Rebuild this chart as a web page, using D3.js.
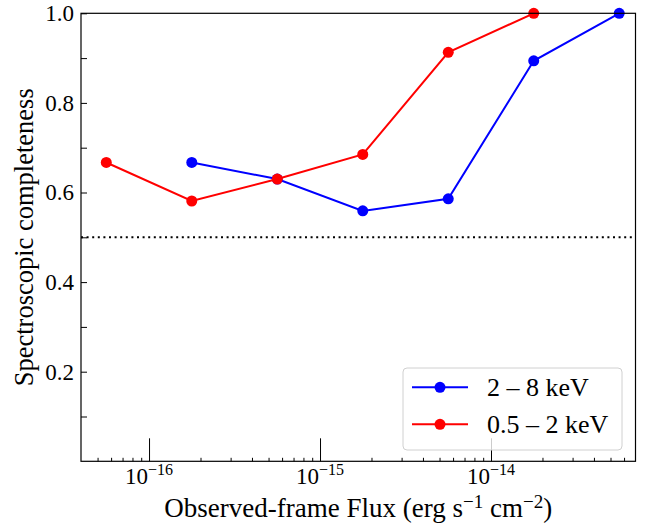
<!DOCTYPE html>
<html>
<head>
<meta charset="utf-8">
<script src="https://cdn.jsdelivr.net/npm/d3@7"></script>
<style>
  body { margin: 0; background: #fff; }
  svg text { font-family: "Liberation Serif", "Times New Roman", serif; fill: #000; }
</style>
</head>
<body>
<svg id="chart" width="654" height="525"></svg>
<script>
// observed-frame flux bins (erg s^-1 cm^-2) and completeness
const hardFlux = [1.778e-16, 5.623e-16, 1.778e-15, 5.623e-15, 1.778e-14, 5.623e-14];
const hardComp = [0.667, 0.630, 0.559, 0.586, 0.894, 1.0];
const softFlux = [5.623e-17, 1.778e-16, 5.623e-16, 1.778e-15, 5.623e-15, 1.778e-14];
const softComp = [0.667, 0.581, 0.630, 0.685, 0.913, 1.0];

const seriesNames = ['2 \u2013 8 keV', '0.5 \u2013 2 keV'];
const yMajor = [0.2, 0.4, 0.6, 0.8, 1.0];
const yMinor = [0.1, 0.3, 0.5, 0.7, 0.9];
const xMajor = [1e-16, 1e-15, 1e-14];
const xMajorLabels = ['\u221216', '\u221215', '\u221214'];

window.onload = () => {

  const svg = d3.select('#chart');
  const margin = {left: 81, right: 18.5, top: 13.3, bottom: 63.7};
  const width = 654 - margin.left - margin.right;
  const height = 525 - margin.top - margin.bottom;

  const x = d3.scaleLog()
              .domain([4.0e-17, 7.0e-14])
              .range([0, width]);

  const y = d3.scaleLinear()
              .domain([0, 1])
              .range([height, 0]);

  const g = svg.append('g')
               .attr('transform', `translate(${margin.left}, ${margin.top})`);

  //minor x ticks: 2..9 of every decade inside the domain
  const xMinor = [];
  [-17, -16, -15, -14].forEach(k => {
    d3.range(2, 10).forEach(m => {
      const v = m * Math.pow(10, k);
      if (v > x.domain()[0] && v < x.domain()[1]) xMinor.push(v);
    });
  });

  const xAxisMajor = d3.axisBottom(x)
                       .tickValues(xMajor)
                       .tickSize(-23)
                       .tickFormat('');

  const xAxisMinor = d3.axisBottom(x)
                       .tickValues(xMinor)
                       .tickSize(-3.5)
                       .tickFormat('');

  const yAxis = d3.axisLeft(y)
                  .tickValues(yMajor.concat(yMinor))
                  .tickSize(-6)
                  .tickFormat('');

  g.append('g')
     .attr('transform', `translate(0, ${height})`)
     .call(xAxisMajor);

  g.append('g')
     .attr('transform', `translate(0, ${height})`)
     .call(xAxisMinor);

  g.append('g')
     .call(yAxis);

  g.selectAll('.domain').remove();
  g.selectAll('.tick line')
     .attr('stroke', '#000')
     .attr('stroke-width', 1);

  //tick labels
  g.selectAll('.ylab')
     .data(yMajor)
     .enter()
     .append('text')
       .attr('x', -7)
       .attr('y', d => y(d) + 8)
       .attr('text-anchor', 'end')
       .style('font-size', '23px')
       .text(d => d.toFixed(1));

  const xl = g.selectAll('.xlab')
              .data(xMajor)
              .enter()
              .append('text')
                .attr('x', d => x(d))
                .attr('y', height + 22.5)
                .attr('text-anchor', 'middle')
                .style('font-size', '23px');
  xl.append('tspan').text('10');
  xl.append('tspan')
      .attr('dy', -8.5)
      .style('font-size', '16px')
      .text((d, i) => xMajorLabels[i]);

  //reference line at 50%
  g.append('line')
     .attr('x1', 0)
     .attr('x2', width)
     .attr('y1', y(0.5))
     .attr('y2', y(0.5))
     .attr('stroke', '#000')
     .attr('stroke-width', 2)
     .attr('stroke-dasharray', '2,3.6');

  const line = d3.line()
                 .x(d => x(d[0]))
                 .y(d => y(d[1]));

  const series = [
    {name: seriesNames[0], color: '#0000ff', pts: d3.zip(hardFlux, hardComp)},
    {name: seriesNames[1], color: '#ff0000', pts: d3.zip(softFlux, softComp)}
  ];

  series.forEach(s => {
    g.append('path')
       .attr('d', line(s.pts))
       .attr('fill', 'none')
       .attr('stroke', s.color)
       .attr('stroke-width', 2);

    g.selectAll(null)
       .data(s.pts)
       .enter()
       .append('circle')
         .attr('cx', d => x(d[0]))
         .attr('cy', d => y(d[1]))
         .attr('r', 5.5)
         .attr('fill', s.color);
  });

  //frame
  g.append('rect')
     .attr('width', width)
     .attr('height', height)
     .attr('fill', 'none')
     .attr('stroke', '#000')
     .attr('stroke-width', 1.2);

  //legend
  const leg = svg.append('g')
                 .attr('transform', 'translate(403, 368)');

  leg.append('rect')
       .attr('width', 219)
       .attr('height', 82)
       .attr('rx', 4)
       .attr('fill', '#fff')
       .attr('fill-opacity', 0.8)
       .attr('stroke', '#d0d0d0')
       .attr('stroke-width', 1);

  series.forEach((s, i) => {
    const row = leg.append('g')
                   .attr('transform', `translate(0, ${19.3 + i * 37})`);
    row.append('line')
         .attr('x1', 9)
         .attr('x2', 65)
         .attr('stroke', s.color)
         .attr('stroke-width', 2);
    row.append('circle')
         .attr('cx', 37)
         .attr('r', 5.5)
         .attr('fill', s.color);
    row.append('text')
         .attr('x', 84)
         .attr('y', 9)
         .style('font-size', '26px')
         .text(s.name);
  });

  //axis titles
  svg.append('text')
       .attr('transform', `translate(33, ${margin.top + height / 2}) rotate(-90)`)
       .attr('text-anchor', 'middle')
       .style('font-size', '26.5px')
       .text('Spectroscopic completeness');

  const xt = svg.append('text')
                .attr('x', margin.left + width / 2)
                .attr('y', 517)
                .attr('text-anchor', 'middle')
                .style('font-size', '27px');
  xt.append('tspan').text('Observed-frame Flux (erg s');
  xt.append('tspan').attr('dy', -9.5).style('font-size', '19px').text('\u22121');
  xt.append('tspan').attr('dy', 9.5).text(' cm');
  xt.append('tspan').attr('dy', -9.5).style('font-size', '19px').text('\u22122');
  xt.append('tspan').attr('dy', 9.5).text(')');
};
</script>
</body>
</html>
